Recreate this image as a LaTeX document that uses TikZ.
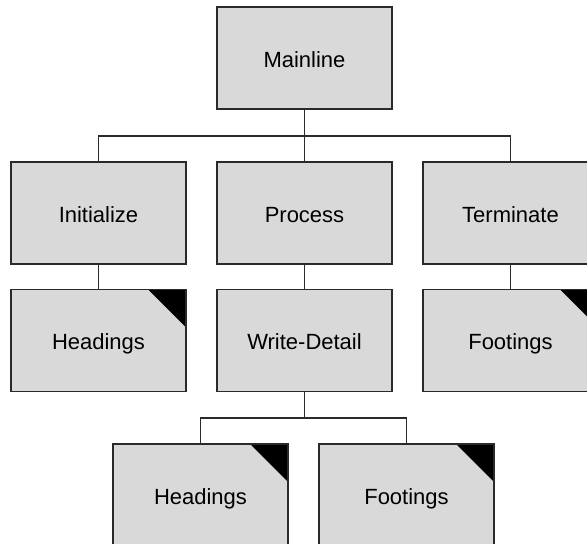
\documentclass[tikz,border=0pt]{standalone}
\usepackage{fontspec}
\setmainfont{Liberation Sans}
\definecolor{boxfill}{HTML}{D9D9D9}
\definecolor{boxline}{HTML}{2A2A2A}
\begin{document}
\begin{tikzpicture}[x=1pt,y=-1pt,
  module/.style={draw=boxline, line width=1.3pt, fill=boxfill,
    minimum width=175pt, minimum height=102pt, inner sep=0pt,
    text height=19pt, text depth=0pt,
    font=\fontsize{22}{26}\selectfont},
  libmodule/.style={module,
    path picture={\fill[black] (path picture bounding box.north east)
      -- ++(-38pt,0pt) -- ++(38pt,-38pt) -- cycle;}},
  link/.style={draw=boxline, line width=1.3pt}]
\useasboundingbox (0,0) rectangle (587,545);
\clip (0,0) rectangle (587,543);

% hierarchy of modules
\node[module] (main) at (304.5,58) {Mainline};
\node[module] (init) at (98.5,213) {Initialize};
\node[module] (proc) at (304.5,213) {Process};
\node[module] (term) at (510.5,213) {Terminate};
\node[libmodule] (head) at (98.5,340.5) {Headings};
\node[module] (write) at (304.5,340.5) {Write-Detail};
\node[libmodule] (foot) at (510.5,340.5) {Footings};
\node[libmodule] (head2) at (200.5,495) {Headings};
\node[libmodule] (foot2) at (406.5,495) {Footings};

% bus lines
\coordinate (busA) at (0,136);
\coordinate (busB) at (0,418);

\draw[link] (main.south) -- (proc.north);
\draw[link] (init.north) -- (init.north |- busA) -- (term.north |- busA) -- (term.north);
\draw[link] (init.south) -- (head.north);
\draw[link] (proc.south) -- (write.north);
\draw[link] (term.south) -- (foot.north);
\draw[link] (write.south) -- (write.south |- busB);
\draw[link] (head2.north) -- (head2.north |- busB) -- (foot2.north |- busB) -- (foot2.north);
\end{tikzpicture}
\end{document}
